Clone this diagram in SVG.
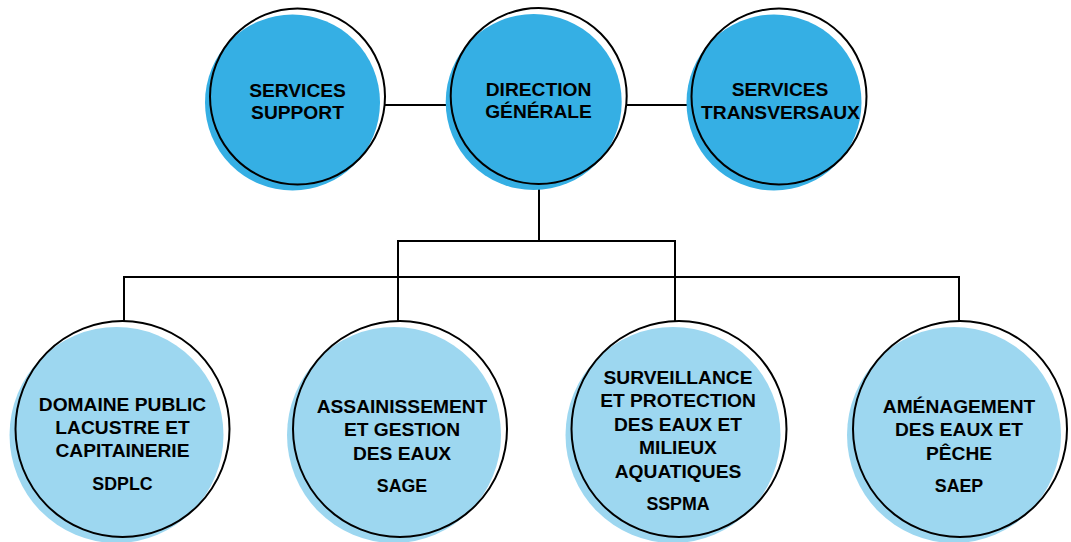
<svg xmlns="http://www.w3.org/2000/svg" width="1071" height="542" viewBox="0 0 1071 542">
<style>
  .bg { fill: #ffffff; }
  .top-fill { fill: #35AFE4; }
  .bot-fill { fill: #9DD7F0; }
  .ring { fill: none; stroke: #000000; stroke-width: 2; }
  .conn { fill: none; stroke: #000000; stroke-width: 2; stroke-linecap: square; }
  .lbl { font-family: "Liberation Sans", Arial, Helvetica, sans-serif; font-weight: bold; font-size: 19.2px; fill: #000000; text-anchor: middle; }
  .abbr { font-family: "Liberation Sans", Arial, Helvetica, sans-serif; font-weight: bold; font-size: 17.8px; fill: #000000; text-anchor: middle; }
</style>
<rect class="bg" x="0" y="0" width="1071" height="542"/>

<g id="connectors">
  <line class="conn" x1="386" y1="105" x2="450" y2="105"/>
  <line class="conn" x1="628" y1="105" x2="691" y2="105"/>
  <line class="conn" x1="539" y1="185" x2="539" y2="241"/>
  <polyline class="conn" points="398,321 398,241 675,241 675,321"/>
  <polyline class="conn" points="124,321 124,277 959,277 959,321"/>
</g>

<g id="services-support">
  <ellipse class="top-fill" cx="292.5" cy="102.5" rx="87.5" ry="88"/>
  <ellipse class="ring" cx="297.5" cy="96.5" rx="87.5" ry="88"/>
  <text class="lbl" x="297.5" y="97">SERVICES</text>
  <text class="lbl" x="297.5" y="118.5">SUPPORT</text>
</g>

<g id="direction-generale">
  <ellipse class="top-fill" cx="533.7" cy="102" rx="88" ry="88"/>
  <ellipse class="ring" cx="538.7" cy="96" rx="88" ry="88"/>
  <text class="lbl" x="538.5" y="95.5">DIRECTION</text>
  <text class="lbl" x="538.5" y="117.5">GÉNÉRALE</text>
</g>

<g id="services-transversaux">
  <ellipse class="top-fill" cx="774" cy="102.5" rx="87.5" ry="88"/>
  <ellipse class="ring" cx="779" cy="96.5" rx="87.5" ry="88"/>
  <text class="lbl" x="780" y="95.5">SERVICES</text>
  <text class="lbl" x="780.5" y="118.5">TRANSVERSAUX</text>
</g>

<g id="sdplc">
  <ellipse class="bot-fill" cx="116.5" cy="435" rx="107" ry="108"/>
  <ellipse class="ring" cx="122.5" cy="429" rx="107" ry="108"/>
  <text class="lbl" x="122.5" y="410.5">DOMAINE PUBLIC</text>
  <text class="lbl" x="122.5" y="433.5">LACUSTRE ET</text>
  <text class="lbl" x="122.5" y="457">CAPITAINERIE</text>
  <text class="abbr" x="122.5" y="489.5">SDPLC</text>
</g>

<g id="sage">
  <ellipse class="bot-fill" cx="394" cy="435" rx="107" ry="108"/>
  <ellipse class="ring" cx="400" cy="429" rx="107" ry="108"/>
  <text class="lbl" x="402" y="413">ASSAINISSEMENT</text>
  <text class="lbl" x="402" y="436">ET GESTION</text>
  <text class="lbl" x="402" y="459.5">DES EAUX</text>
  <text class="abbr" x="402" y="491.5">SAGE</text>
</g>

<g id="sspma">
  <ellipse class="bot-fill" cx="673" cy="435" rx="107.5" ry="108"/>
  <ellipse class="ring" cx="679" cy="429" rx="107.5" ry="108"/>
  <text class="lbl" x="678" y="383.5">SURVEILLANCE</text>
  <text class="lbl" x="678" y="407">ET PROTECTION</text>
  <text class="lbl" x="678" y="430.5">DES EAUX ET</text>
  <text class="lbl" x="678" y="454">MILIEUX</text>
  <text class="lbl" x="678" y="477.5">AQUATIQUES</text>
  <text class="abbr" x="678" y="510">SSPMA</text>
</g>

<g id="saep">
  <ellipse class="bot-fill" cx="954" cy="435" rx="107" ry="108"/>
  <ellipse class="ring" cx="960" cy="429" rx="107" ry="108"/>
  <text class="lbl" x="959" y="413">AMÉNAGEMENT</text>
  <text class="lbl" x="959" y="436">DES EAUX ET</text>
  <text class="lbl" x="959" y="459.5">PÊCHE</text>
  <text class="abbr" x="959" y="491.5">SAEP</text>
</g>
</svg>
